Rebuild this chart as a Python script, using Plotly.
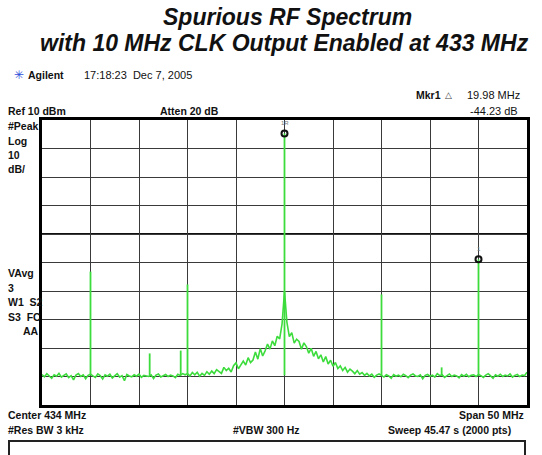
import plotly.graph_objects as go

# ---------------- data ----------------
START_MHZ = 409.0          # center 434 MHz, span 50 MHz
STEP_MHZ = 0.25            # trace sample spacing used here
trace_level = [
    -79.3, -80.1, -79.0, -79.8, -80.6, -79.4, -79.9, -78.9, -80.2, -79.6,
    -79.1, -80.4, -79.7, -81.2, -79.5, -79.0, -80.0, -79.4, -80.8, -79.6,
    -79.2, -79.8, -80.3, -79.1, -79.7, -80.9, -79.4, -79.9, -79.2, -80.5,
    -79.6, -79.0, -80.2, -79.7, -81.5, -79.3, -79.8, -80.1, -79.4, -79.9,
    -79.2, -80.3, -79.6, -79.8, -80.0, -79.4, -80.7, -79.5, -79.1, -80.2,
    -79.7, -79.3, -80.0, -79.5, -79.8, -80.4, -79.2, -79.6, -79.0, -79.4,
    -79.0, -79.8, -78.6, -79.4, -78.5, -79.9, -78.9, -79.6, -78.3, -79.2,
    -78.1, -79.0, -77.6, -78.3, -78.9, -76.8, -77.9, -77.1, -78.4, -76.2,
    -75.2, -77.3, -75.9, -74.6, -76.0, -73.4, -75.1, -74.2, -71.4, -73.9,
    -70.2, -72.8, -71.0, -68.6, -70.4, -67.5, -69.2, -65.9, -66.8, -61.5,
    -50.0,
    -61.0, -66.0, -64.6, -68.3, -66.9, -67.7, -70.4, -68.2, -69.5, -71.8,
    -70.1, -72.9, -71.2, -73.8, -72.4, -74.9, -73.0, -75.6, -74.3, -76.4,
    -75.1, -77.2, -76.3, -77.9, -76.8, -78.5, -77.4, -78.1, -79.0, -77.9,
    -79.2, -78.6, -79.6, -78.9, -79.8, -79.2, -80.3, -79.5, -79.1, -79.6,
    -80.2, -79.4, -79.8, -80.6, -79.3, -79.9, -79.5, -80.1, -79.2, -79.7,
    -80.4, -79.5, -79.1, -79.8, -80.0, -79.4, -80.8, -79.6, -79.3, -79.9,
    -79.5, -80.2, -79.0, -79.7, -79.4, -80.3, -79.6, -79.1, -80.0, -79.5,
    -79.8, -80.5, -79.3, -79.9, -79.2, -80.1, -79.6, -79.4, -80.0, -79.3,
    -79.7, -80.3, -79.5, -79.0, -79.8, -80.6, -79.4, -79.9, -79.2, -80.0,
    -79.5, -79.8, -79.1, -80.2, -79.6, -79.3, -80.0, -79.5, -79.7, -78.5,
]

# discrete lines (carrier + spurs), MHz and dBm
spur_freq = [414.0, 420.1, 423.3, 424.0, 434.0, 444.0, 450.2, 454.0]
spur_level = [-43.2, -71.9, -70.9, -47.7, 5.3, -51.2, -76.8, -38.9]
spur_base = -79.6

# markers
marker_freq = [434.0, 454.0]
marker_level = [5.3, -38.9]
marker_label = ["1R", "1"]

x_ticks = [409, 414, 419, 424, 429, 434, 439, 444, 449, 454, 459]
y_ticks = [10, 0, -10, -20, -30, -40, -50, -60, -70, -80, -90]

# ---------------- figure ----------------
W, H = 542, 455
L, R, T, B = 42, 527, 120, 405
GREEN = "#3ddc3d"
FONT = "Liberation Sans, Arial, sans-serif"


def px(x):
    return (x - L) / (R - L)


def py(y):
    return (B - y) / (B - T)


fig = go.Figure()

fig.add_trace(go.Scatter(
    y=trace_level, x0=START_MHZ, dx=STEP_MHZ, mode="lines",
    line=dict(color=GREEN, width=1.6), hoverinfo="skip", showlegend=False))

sx, sy = [], []
for f, lv in zip(spur_freq, spur_level):
    sx += [f, f, None]
    sy += [spur_base, lv, None]
fig.add_trace(go.Scatter(
    x=sx, y=sy, mode="lines", line=dict(color=GREEN, width=1.8),
    hoverinfo="skip", showlegend=False))

fig.add_trace(go.Scatter(
    x=marker_freq, y=marker_level, mode="markers",
    marker=dict(symbol="circle-open", size=6, color="#111",
                line=dict(width=2, color="#111")),
    hoverinfo="skip", showlegend=False))

for f, lv, lab in zip(marker_freq, marker_level, marker_label):
    fig.add_annotation(x=f, y=lv, text=lab, showarrow=False, yshift=10,
                       font=dict(size=6, color="#777", family=FONT))

fig.update_xaxes(range=[x_ticks[0], x_ticks[-1]], tickvals=x_ticks,
                 showticklabels=False, ticks="", showgrid=True,
                 gridcolor="#3a3a3a", gridwidth=1.4, zeroline=False,
                 showline=True, mirror=True, linecolor="#000", linewidth=2.5)
fig.update_yaxes(range=[y_ticks[-1], y_ticks[0]], tickvals=y_ticks,
                 showticklabels=False, ticks="", showgrid=True,
                 gridcolor="#3a3a3a", gridwidth=1.4, zeroline=False,
                 showline=True, mirror=True, linecolor="#000", linewidth=2.5)

# emphasised display line at -30 dBm
fig.add_shape(type="line", xref="paper", x0=0, x1=1, yref="y", y0=-30, y1=-30,
              line=dict(color="#111", width=2.2), layer="below")

# bottom empty box
fig.add_shape(type="rect", xref="paper", yref="paper",
              x0=px(9), x1=px(525), y0=py(441), y1=py(470),
              line=dict(color="#222", width=2))


def txt(x, y, s, size=11, bold=False, anchor="left", color="#111", italic=False):
    if bold:
        s = "<b>" + s + "</b>"
    if italic:
        s = "<i>" + s + "</i>"
    fig.add_annotation(xref="paper", yref="paper", x=px(x), y=py(y), text=s,
                       showarrow=False, xanchor=anchor, yanchor="middle",
                       font=dict(size=size, color=color, family=FONT))


# title
txt(287, 17, "Spurious RF Spectrum", size=23, bold=True, italic=True,
    anchor="center")
txt(284, 43, "with 10 MHz CLK Output Enabled at 433 MHz", size=23, bold=True,
    italic=True, anchor="center")

# header
txt(12, 75, "✳", size=12, color="#3050d8")
txt(26, 75, "Agilent", size=10.5, bold=True)
txt(82, 75, "17:18:23  Dec 7, 2005", size=11)
txt(414, 95, "Mkr1", size=10.5, bold=True)
txt(443, 95, "△", size=9, color="#444")
txt(522, 95, "19.98 MHz", size=11, anchor="right")
txt(6, 111, "Ref 10 dBm", size=10.5, bold=True)
txt(158, 111, "Atten 20 dB", size=10.5, bold=True)
txt(520, 111, "-44.23 dB", size=11, anchor="right")

# left labels
for yy, s in [(126, "#Peak"), (141, "Log"), (155, "10"), (169, "dB/"),
              (273, "VAvg"), (288, "3"), (302, "W1  S2"), (317, "S3  FC")]:
    txt(6, yy, s, size=10.5, bold=True)
txt(41, 331, "AA", size=10.5, bold=True, anchor="right")

# bottom labels
txt(6, 415, "Center 434 MHz", size=10.5, bold=True)
txt(526, 415, "Span 50 MHz", size=10.5, bold=True, anchor="right")
txt(6, 430, "#Res BW 3 kHz", size=10.5, bold=True)
txt(231, 430, "#VBW 300 Hz", size=10.5, bold=True)
txt(513, 430, "Sweep 45.47 s (2000 pts)", size=10.5, bold=True, anchor="right")

fig.update_layout(
    width=W, height=H, margin=dict(l=L, r=W - R, t=T, b=H - B),
    paper_bgcolor="white", plot_bgcolor="white", showlegend=False)

fig.write_html(
    "out.html",
    config={"displayModeBar": False},
    post_script="document.body.style.margin='0px';"
                "document.body.style.overflow='hidden';")
